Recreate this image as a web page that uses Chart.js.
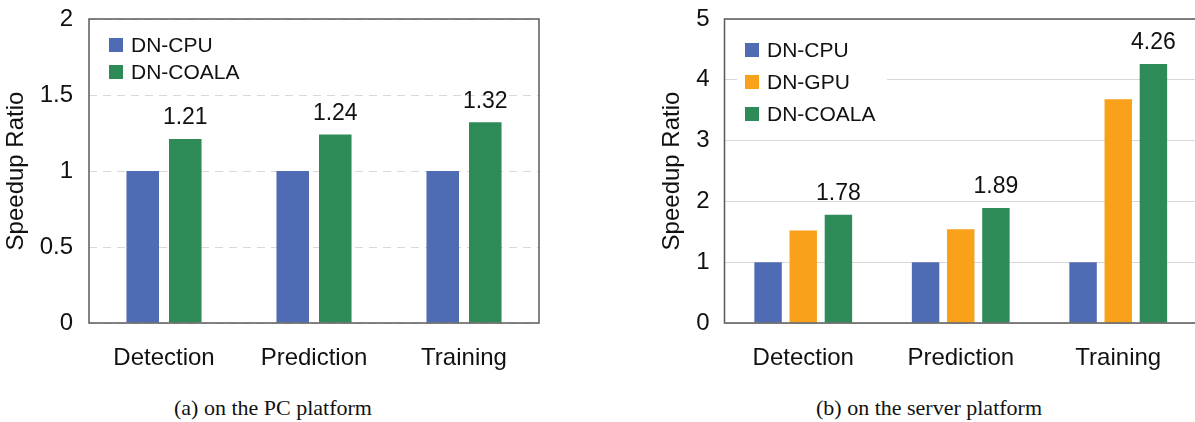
<!DOCTYPE html>
<html>
<head>
<meta charset="utf-8">
<script src="https://cdn.jsdelivr.net/npm/chart.js@4.4.0/dist/chart.umd.min.js"></script>
<style>
  html, body { margin: 0; padding: 0; background: #fff; overflow: hidden; }
  body { width: 1195px; height: 422px; position: relative; }
  .box { position: absolute; top: 0; height: 380px; }
  #pcBox { left: 0; width: 600px; }
  #srvBox { left: 640px; width: 560px; }
  .caption {
    position: absolute; top: 395px; font: 22px "Liberation Serif", "Times New Roman", serif;
    line-height: 26px; color: #111; white-space: nowrap; transform: translateX(-50%);
  }
</style>
</head>
<body>
<div class="box" id="pcBox"><canvas id="pcChart"></canvas></div>
<div class="box" id="srvBox"><canvas id="srvChart"></canvas></div>
<div class="caption" style="left:273px">(a) on the PC platform</div>
<div class="caption" style="left:929px">(b) on the server platform</div>
<script>
const categories = ['Detection', 'Prediction', 'Training'];

// (a) PC platform
const pcCpu = [1, 1, 1];
const pcCoala = [1.21, 1.24, 1.32];
const pcTicks = [0, 0.5, 1, 1.5, 2];

// (b) server platform
const srvCpu = [1, 1, 1];
const srvGpu = [1.52, 1.54, 3.68];
const srvCoala = [1.78, 1.89, 4.26];
const srvTicks = [0, 1, 2, 3, 4, 5];

const BLUE = '#4e6bb3';
const ORANGE = '#f9a11b';
const GREEN = '#2e8b57';
const SANS = '"Liberation Sans", Arial, sans-serif';

// box around the plot area
const framePlugin = {
    id: 'frame',
    afterDatasetsDraw(chart) {
        const a = chart.chartArea;
        const ctx = chart.ctx;
        ctx.save();
        ctx.setLineDash([]);
        ctx.strokeStyle = '#5a5a5a';
        ctx.lineWidth = 1.5;
        ctx.strokeRect(a.left, a.top, a.right - a.left, a.bottom - a.top);
        ctx.restore();
    }
};

// value labels over the last series
const valueLabels = {
    id: 'valueLabels',
    afterDatasetsDraw(chart) {
        const ctx = chart.ctx;
        const last = chart.data.datasets.length - 1;
        const meta = chart.getDatasetMeta(last);
        ctx.save();
        ctx.font = '23px ' + SANS;
        ctx.fillStyle = '#111';
        ctx.textAlign = 'center';
        ctx.textBaseline = 'middle';
        meta.data.forEach((bar, i) => {
            const v = chart.data.datasets[last].data[i];
            ctx.fillText(v.toFixed(2), bar.x, bar.y - 21);
        });
        ctx.restore();
    }
};

// legend drawn inside the plot, top left
const insideLegend = {
    id: 'insideLegend',
    afterDraw(chart, args, opts) {
        const ctx = chart.ctx;
        const a = chart.chartArea;
        const sets = chart.data.datasets;
        const x = a.left + opts.dx;
        ctx.save();
        ctx.font = '21px ' + SANS;
        if (opts.bg) {
            ctx.fillStyle = '#fff';
            ctx.fillRect(x - 8, opts.rowY[0] - 16, 150, opts.rowY[sets.length - 1] - opts.rowY[0] + 32);
        }
        ctx.textBaseline = 'middle';
        sets.forEach((ds, i) => {
            const y = opts.rowY[i];
            ctx.fillStyle = ds.backgroundColor;
            ctx.fillRect(x, y - 7, 14, 14);
            ctx.fillStyle = '#111';
            ctx.fillText(ds.label, x + 22, y + 1);
        });
        ctx.restore();
    }
};

function makeOptions(yMax, ticks, dashed, yWidth, tickPad, titlePad, padRight, legendOpts) {
    return {
        responsive: true,
        maintainAspectRatio: false,
        animation: false,
        layout: { padding: { top: 19, right: padRight, left: 0, bottom: 0 } },
        plugins: {
            legend: { display: false },
            tooltip: { enabled: false },
            insideLegend: legendOpts
        },
        scales: {
            x: {
                grid: { display: false },
                border: { display: false },
                ticks: { color: '#111', font: { family: SANS, size: 24 }, padding: 13, maxRotation: 0 },
                afterFit(scale) {
                    scale.height = 57;
                    scale.paddingLeft = 0;
                    scale.paddingRight = 0;
                }
            },
            y: {
                min: 0,
                max: yMax,
                grid: { color: '#d9d9d9', lineWidth: 1, drawTicks: false },
                border: { display: false, dash: dashed ? [8, 6] : [] },
                ticks: {
                    color: '#111',
                    font: { family: SANS, size: 24 },
                    padding: tickPad,
                    callback: v => String(v)
                },
                afterBuildTicks(scale) { scale.ticks = ticks.map(v => ({ value: v })); },
                title: {
                    display: true,
                    text: 'Speedup Ratio',
                    color: '#111',
                    font: { family: SANS, size: 24 },
                    padding: { top: titlePad, bottom: 0 }
                },
                afterFit(scale) {
                    scale.width = yWidth;
                    scale.paddingTop = 0;
                    scale.paddingBottom = 0;
                }
            }
        }
    };
}

new Chart(document.getElementById('pcChart'), {
    type: 'bar',
    data: {
        labels: categories,
        datasets: [
            { label: 'DN-CPU', data: pcCpu, backgroundColor: BLUE, categoryPercentage: 0.567, barPercentage: 0.765 },
            { label: 'DN-COALA', data: pcCoala, backgroundColor: GREEN, categoryPercentage: 0.567, barPercentage: 0.765 }
        ]
    },
    options: makeOptions(2, pcTicks, true, 89, 16, 2, 61, { dx: 20, rowY: [45, 72], bg: false }),
    plugins: [framePlugin, valueLabels, insideLegend]
});

new Chart(document.getElementById('srvChart'), {
    type: 'bar',
    data: {
        labels: categories,
        datasets: [
            { label: 'DN-CPU', data: srvCpu, backgroundColor: BLUE, categoryPercentage: 0.67, barPercentage: 0.78 },
            { label: 'DN-GPU', data: srvGpu, backgroundColor: ORANGE, categoryPercentage: 0.67, barPercentage: 0.78 },
            { label: 'DN-COALA', data: srvCoala, backgroundColor: GREEN, categoryPercentage: 0.67, barPercentage: 0.78 }
        ]
    },
    options: makeOptions(5, srvTicks, false, 84.5, 15, 17.6, 3, { dx: 20.5, rowY: [50, 82, 114], bg: true }),
    plugins: [framePlugin, valueLabels, insideLegend]
});
</script>
</body>
</html>
